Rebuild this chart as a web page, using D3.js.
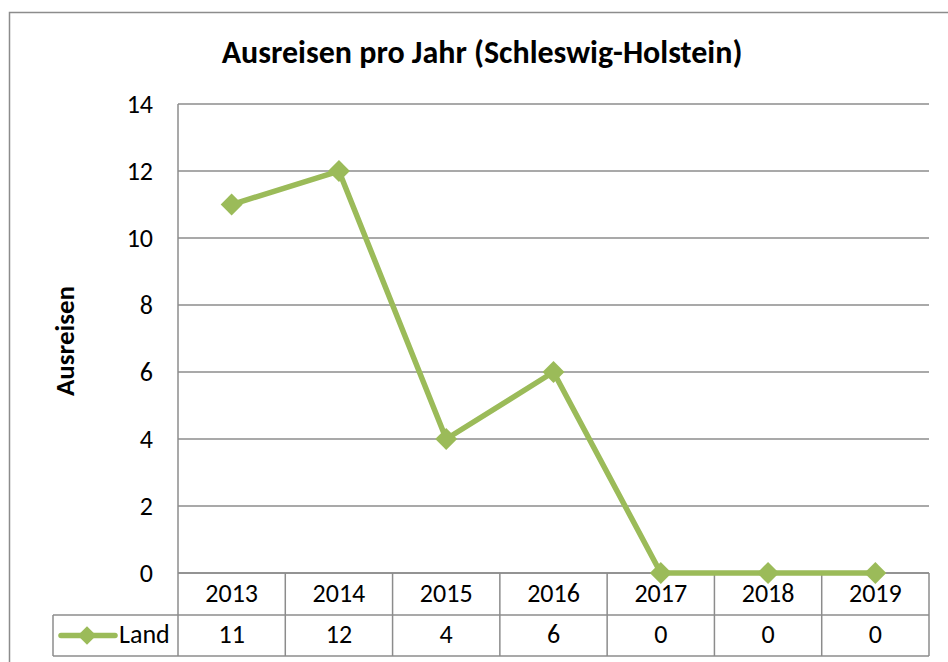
<!DOCTYPE html>
<html><head><meta charset="utf-8">
<script src="https://cdn.jsdelivr.net/npm/d3@7"></script>
<style>body{margin:0;background:#fff}svg{display:block}text{font-family:Carlito,Lato,"Open Sans",sans-serif}</style>
</head><body><svg id="c" width="948" height="662"></svg>
<script>
const years = ["2013","2014","2015","2016","2017","2018","2019"];
const values = [11,12,4,6,0,0,0];
const yTicks = [0,2,4,6,8,10,12,14];
const seriesName = "Land";
const title = "Ausreisen pro Jahr (Schleswig-Holstein)";
const yTitle = "Ausreisen";

const svg = d3.select("#c");
const L=178, R=929, T=104, B=573, row1=615, row2=656, legL=53;
const green="#9BBB59", grid="#8c8c8c";

svg.append("rect").attr("x",9.5).attr("y",12.5).attr("width",960).attr("height",700)
  .attr("fill","none").attr("stroke",grid).attr("stroke-width",1.5);

const x = d3.scaleBand().domain(years).range([L,R]);
const y = d3.scaleLinear().domain([0,14]).range([B,T]);

// grid
svg.append("g").selectAll("line").data(yTicks).join("line")
  .attr("x1",L).attr("x2",R).attr("y1",d=>y(d)).attr("y2",d=>y(d))
  .attr("stroke",grid).attr("stroke-width",1.5);
svg.append("line").attr("x1",L).attr("x2",L).attr("y1",T).attr("y2",B).attr("stroke",grid).attr("stroke-width",1.5);

// y axis
const ya = svg.append("g").attr("transform",`translate(${L},0)`)
  .call(d3.axisLeft(y).tickValues(yTicks).tickSize(0).tickPadding(25));
ya.select(".domain").remove();
ya.selectAll("text").attr("font-size",26).attr("fill","#000").attr("dy","0.31em").style("font-family","Carlito,Lato,sans-serif");

// table
const tbl = svg.append("g").attr("stroke",grid).attr("stroke-width",1.5).attr("fill","none");
tbl.append("line").attr("x1",L).attr("x2",R).attr("y1",B).attr("y2",B);
tbl.append("line").attr("x1",legL).attr("x2",R).attr("y1",row1).attr("y2",row1);
tbl.append("line").attr("x1",legL).attr("x2",R).attr("y1",row2).attr("y2",row2);
tbl.append("line").attr("x1",legL).attr("x2",legL).attr("y1",row1).attr("y2",row2);
const edges = years.map(d=>x(d)).concat([R]);
tbl.selectAll("line.v").data(edges).join("line").attr("class","v")
  .attr("x1",d=>d).attr("x2",d=>d).attr("y1",B).attr("y2",row2);

svg.append("g").selectAll("text").data(years).join("text")
  .attr("x",d=>x(d)+x.bandwidth()/2).attr("y",(B+row1)/2+8)
  .attr("text-anchor","middle").attr("font-size",26).text(d=>d);
svg.append("g").selectAll("text").data(values).join("text")
  .attr("x",(d,i)=>x(years[i])+x.bandwidth()/2).attr("y",(row1+row2)/2+7.5)
  .attr("text-anchor","middle").attr("font-size",26).text(d=>d);

// legend key
const ly=(row1+row2)/2;
svg.append("line").attr("x1",61).attr("x2",115).attr("y1",ly).attr("y2",ly)
  .attr("stroke",green).attr("stroke-width",5.5).attr("stroke-linecap","round");
svg.append("path").attr("d",d3.symbol(d3.symbolSquare,170)())
  .attr("transform",`translate(87,${ly}) rotate(45)`).attr("fill",green);
svg.append("text").attr("x",119).attr("y",ly+7.5).attr("font-size",26).text(seriesName);

// line
const line = d3.line().x((d,i)=>x(years[i])+x.bandwidth()/2).y(d=>y(d));
svg.append("path").datum(values).attr("d",line).attr("fill","none")
  .attr("stroke",green).attr("stroke-width",5.5).attr("stroke-linejoin","round");
svg.append("g").selectAll("path").data(values).join("path")
  .attr("d",d3.symbol(d3.symbolSquare,240)())
  .attr("transform",(d,i)=>`translate(${x(years[i])+x.bandwidth()/2},${y(d)}) rotate(45)`)
  .attr("fill",green);

// titles
svg.append("text").attr("x",482).attr("y",63).attr("text-anchor","middle")
  .attr("font-size",32).attr("font-weight","bold").text(title);
svg.append("text").attr("transform","translate(74,341) rotate(-90)").attr("text-anchor","middle")
  .attr("font-size",27).attr("font-weight","bold").text(yTitle);
</script></body></html>
